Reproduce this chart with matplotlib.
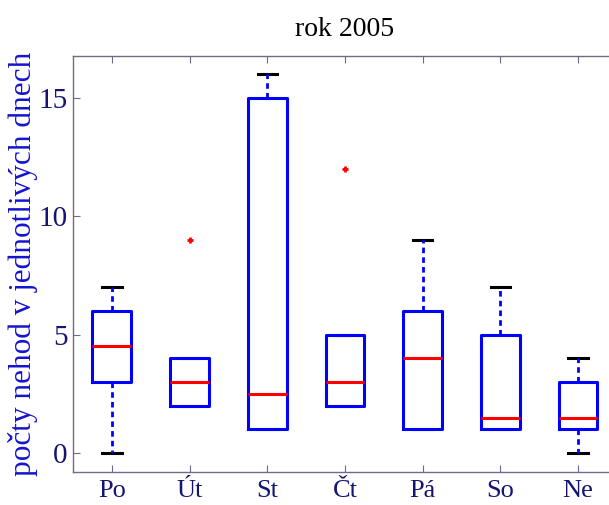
import matplotlib
matplotlib.use("Agg")
import matplotlib.pyplot as plt

# dny v tydnu a statistiky boxplotu
dny = ['Po', 'Út', 'St', 'Čt', 'Pá', 'So', 'Ne']
dolni_vous = [0, 2, 1, 2, 1, 1, 0]
q1 = [3, 2, 1, 2, 1, 1, 1]
median = [4.5, 3, 2.5, 3, 4, 1.5, 1.5]
q3 = [6, 4, 15, 5, 6, 5, 3]
horni_vous = [7, 4, 16, 5, 9, 7, 4]
odlehle = [[], [9], [], [12], [], [], []]

stats = []
for i in range(len(dny)):
    stats.append({'label': dny[i], 'whislo': dolni_vous[i], 'q1': q1[i],
                  'med': median[i], 'q3': q3[i], 'whishi': horni_vous[i],
                  'fliers': odlehle[i]})

plt.rcParams['font.family'] = ['Liberation Serif', 'DejaVu Serif']

fig = plt.figure(figsize=(6.09, 5.05), dpi=100)
ax = fig.add_axes([0.1199, 0.0653, 0.893, 0.824])

ax.bxp(stats, positions=range(1, len(dny) + 1), widths=0.5, capwidths=0.25,
       boxprops=dict(color='#0000ff', linewidth=2.2, zorder=3),
       medianprops=dict(color='#ff0000', linewidth=2.2, zorder=4),
       whiskerprops=dict(color='#0000ff', linewidth=2.0, linestyle=(0, (2, 1.5)), zorder=2),
       capprops=dict(color='black', linewidth=2.2, zorder=1),
       flierprops=dict(marker='+', markeredgecolor='#ff0000', markersize=5,
                       markeredgewidth=2, linestyle='none'))

ax.set_xlim(0.5, 7.5)
ax.set_ylim(-0.8, 16.76)
ax.set_yticks([0, 5, 10, 15])
ax.set_xticks(range(1, len(dny) + 1))
ax.set_xticklabels(dny)

spine_c = '#6b6b8a'
for s in ax.spines.values():
    s.set_color(spine_c)
    s.set_linewidth(1.0)
ax.tick_params(direction='in', top=True, right=True, colors=spine_c,
               labelcolor='#141473', length=5)
ax.tick_params(axis='x', pad=5.5, labelsize=19)
ax.tick_params(axis='y', pad=4, labelsize=21)

ax.set_ylabel('počty nehod v jednotlivých dnech', color='#1414d0', fontsize=22.5)
ax.yaxis.set_label_coords(-0.064, 0.5)
ax.set_title('rok 2005', fontsize=20, pad=14)

fig.savefig('out.png', dpi=100)
